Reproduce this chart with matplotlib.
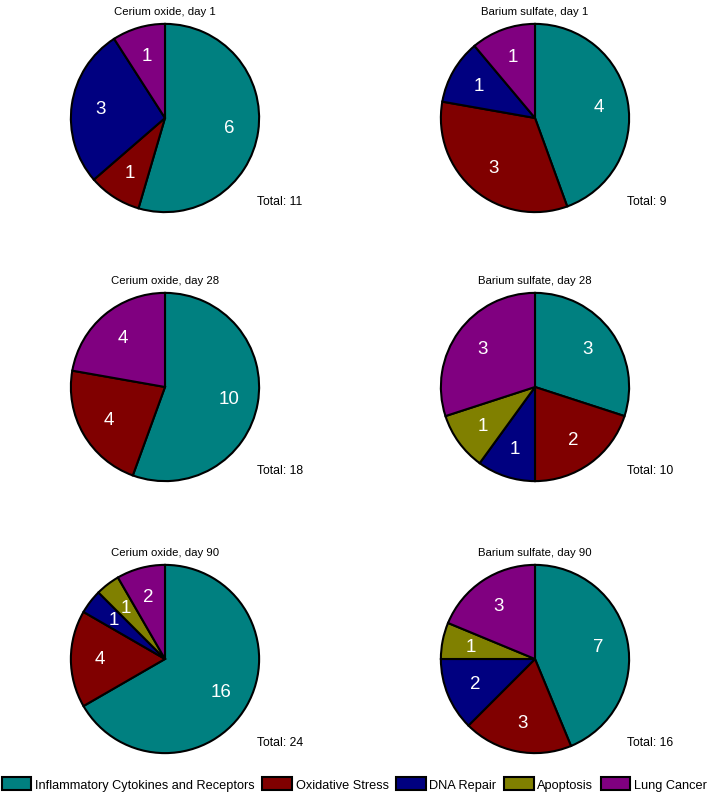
import numpy as np
import matplotlib.pyplot as plt
from matplotlib.patches import Patch

plt.rcParams['font.family'] = ['Liberation Sans', 'DejaVu Sans']

# gene categories, clockwise from 12 o'clock
categories = ['Inflammatory Cytokines and Receptors', 'Oxidative Stress',
              'DNA Repair', 'Apoptosis', 'Lung Cancer']
colors = ['#008080', '#800000', '#000080', '#808000', '#800080']

titles = ['Cerium oxide, day 1', 'Barium sulfate, day 1',
          'Cerium oxide, day 28', 'Barium sulfate, day 28',
          'Cerium oxide, day 90', 'Barium sulfate, day 90']

ceo2_day1 = [6, 1, 3, 0, 1]
baso4_day1 = [4, 3, 1, 0, 1]
ceo2_day28 = [10, 4, 0, 0, 4]
baso4_day28 = [3, 2, 1, 1, 3]
ceo2_day90 = [16, 4, 1, 1, 2]
baso4_day90 = [7, 3, 2, 1, 3]
counts = [ceo2_day1, baso4_day1, ceo2_day28, baso4_day28, ceo2_day90, baso4_day90]

W, H = 709, 804
fig = plt.figure(figsize=(W / 100, H / 100), dpi=100)

# pie centres in pixels (from top-left) and radius
col_x = [165, 535]
row_y = [119, 388, 660]
R = 96

for i, vals in enumerate(counts):
    cx = col_x[i % 2]
    cy = row_y[i // 2]
    ax = fig.add_axes([(cx - R) / W, 1 - (cy + R) / H, 2 * R / W, 2 * R / H])
    keep = [j for j, v in enumerate(vals) if v > 0]
    v = [vals[j] for j in keep]
    c = [colors[j] for j in keep]
    total = sum(vals)
    ax.pie(v, colors=c, startangle=90, counterclock=False, radius=1,
           autopct=lambda p, t=total: f'{int(round(p * t / 100))}',
           pctdistance=0.69,
           wedgeprops=dict(edgecolor='black', linewidth=1.5),
           textprops=dict(color='white', fontsize=13.5))
    ax.set_xlim(-1.02, 1.02)
    ax.set_ylim(-1.02, 1.02)
    ax.set_aspect('equal')
    ax.axis('off')
    fig.text(cx / W, 1 - (cy - R - 11) / H, titles[i], ha='center', va='center',
             fontsize=8.2)
    fig.text((cx + 92) / W, 1 - (cy + 83) / H, f'Total: {total}', ha='left',
             va='center', fontsize=8.8)

handles = [Patch(facecolor=col, edgecolor='black', linewidth=1.5) for col in colors]
fig.legend(handles, categories, loc='center', bbox_to_anchor=(0.5, 1 - 785 / H),
           ncol=5, frameon=False, fontsize=9.2, handlelength=2.3, handleheight=1.1,
           handletextpad=0.3, columnspacing=0.6, borderpad=0)

fig.savefig('out.png', dpi=100)
